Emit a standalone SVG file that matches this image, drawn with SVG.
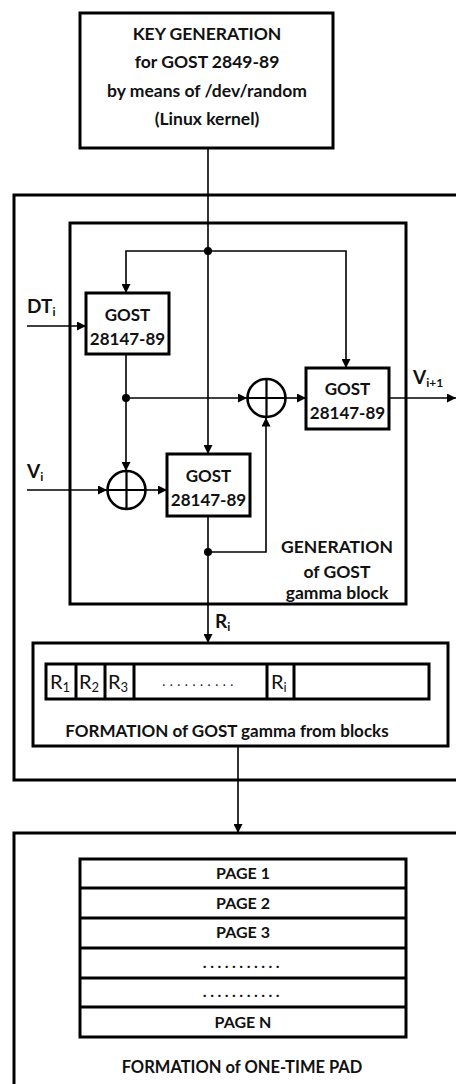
<svg xmlns="http://www.w3.org/2000/svg" width="456" height="1084" viewBox="0 0 456 1084">
<defs>
<marker id="ah" viewBox="0 0 10 10" refX="10" refY="5" markerWidth="9" markerHeight="9" markerUnits="userSpaceOnUse" orient="auto"><path d="M0,0 L10,5 L0,10 z" fill="#000"/></marker>
<style>
.box{fill:#fff;stroke:#000;stroke-width:3}
.frame{fill:none;stroke:#000;stroke-width:3}
.conn{fill:none;stroke:#000;stroke-width:1.6}
.t{font-family:Lato,"Open Sans",sans-serif;font-weight:bold;fill:#111;text-anchor:middle}
.r{font-family:Lato,"Open Sans",sans-serif;fill:#111;font-size:20px}
.lab{font-family:Lato,"Open Sans",sans-serif;font-weight:bold;fill:#111;font-size:19px}
.dots{font-family:Lato,"Open Sans",sans-serif;fill:#111;text-anchor:middle}
</style>
</defs>

<g id="outer-gamma"><rect class="frame" x="14" y="195" width="460" height="585"/></g>
<g id="outer-pad"><rect class="frame" x="14" y="833" width="460" height="260"/>
<text class="t" x="242" y="1073" font-size="16.5">FORMATION of ONE-TIME PAD</text></g>

<g id="key-gen">
<rect class="box" x="80" y="13" width="253" height="135"/>
<text class="t" x="207" y="40" font-size="17.5">KEY GENERATION</text>
<text class="t" x="207" y="68" font-size="17.5">for GOST 2849-89</text>
<text class="t" x="207" y="97" font-size="17.5">by means of /dev/random</text>
<text class="t" x="207" y="125" font-size="17.5">(Linux kernel)</text>
</g>

<g id="gen-block">
<rect class="frame" x="70" y="223" width="336" height="381"/>
<text class="t" x="337" y="553" font-size="17.5">GENERATION</text>
<text class="t" x="337" y="578" font-size="17.5">of GOST</text>
<text class="t" x="337" y="599" font-size="17.5">gamma block</text>
</g>

<g id="connectors">
<path class="conn" d="M208,148 V454" marker-end="url(#ah)"/>
<path class="conn" d="M208,251 H126 V293" marker-end="url(#ah)"/>
<path class="conn" d="M208,251 H346 V368" marker-end="url(#ah)"/>
<path class="conn" d="M27,326 H86" marker-end="url(#ah)"/>
<path class="conn" d="M126,354 V471" marker-end="url(#ah)"/>
<path class="conn" d="M126,398 H247" marker-end="url(#ah)"/>
<path class="conn" d="M285.5,398 H306" marker-end="url(#ah)"/>
<path class="conn" d="M389,398 H456" marker-end="url(#ah)"/>
<path class="conn" d="M27,490 H107" marker-end="url(#ah)"/>
<path class="conn" d="M145.5,490 H167" marker-end="url(#ah)"/>
<path class="conn" d="M208,516 V643" marker-end="url(#ah)"/>
<path class="conn" d="M208,552 H266 V417.5" marker-end="url(#ah)"/>
<path class="conn" d="M238,746 V833" marker-end="url(#ah)"/>
<circle cx="208" cy="251" r="4" fill="#000"/>
<circle cx="126" cy="398" r="4" fill="#000"/>
<circle cx="208" cy="552" r="4" fill="#000"/>
</g>

<g id="gost1">
<rect class="box" x="86" y="293" width="83" height="61"/>
<text class="t" x="127.5" y="321" font-size="17">GOST</text>
<text class="t" x="127.5" y="345" font-size="17">28147-89</text>
</g>
<g id="gost2">
<rect class="box" x="167" y="454" width="83" height="62"/>
<text class="t" x="208.5" y="482" font-size="17">GOST</text>
<text class="t" x="208.5" y="506" font-size="17">28147-89</text>
</g>
<g id="gost3">
<rect class="box" x="306" y="368" width="83" height="61"/>
<text class="t" x="347.5" y="395" font-size="17">GOST</text>
<text class="t" x="347.5" y="419" font-size="17">28147-89</text>
</g>

<g id="xor1">
<circle cx="266.5" cy="398" r="19" fill="#fff" stroke="#000" stroke-width="2.6"/>
<path d="M247.5,398 H285.5 M266.5,379 V417" stroke="#000" stroke-width="2.2"/>
</g>
<g id="xor2">
<circle cx="126.5" cy="490" r="19" fill="#fff" stroke="#000" stroke-width="2.6"/>
<path d="M107.5,490 H145.5 M126.5,471 V509" stroke="#000" stroke-width="2.2"/>
</g>

<g id="labels">
<text class="lab" x="27" y="313">DT<tspan font-size="12" dy="3">i</tspan></text>
<text class="lab" x="413" y="384">V<tspan font-size="12" dy="3">i+1</tspan></text>
<text class="lab" x="27" y="478">V<tspan font-size="12" dy="3">i</tspan></text>
<text class="lab" x="215" y="628">R<tspan font-size="12" dy="3">i</tspan></text>
</g>

<g id="formation-gamma">
<rect class="box" x="33" y="643" width="415" height="103"/>
<rect class="box" x="46" y="664" width="383" height="35"/>
<path d="M76,664 V699 M105,664 V699 M134,664 V699 M267,664 V699 M294,664 V699" stroke="#000" stroke-width="3"/>
<text class="r" x="50" y="689">R<tspan font-size="13" dy="3">1</tspan></text>
<text class="r" x="79" y="689">R<tspan font-size="13" dy="3">2</tspan></text>
<text class="r" x="108" y="689">R<tspan font-size="13" dy="3">3</tspan></text>
<text class="dots" x="200" y="686" font-size="13" style="letter-spacing:4.5px">..........</text>
<text class="r" x="271" y="689">R<tspan font-size="13" dy="3">i</tspan></text>
<text class="t" x="227" y="737" font-size="17">FORMATION of GOST gamma from blocks</text>
</g>

<g id="pages">
<rect class="box" x="80" y="859" width="326" height="178"/>
<path d="M80,888 H406 M80,918 H406 M80,948 H406 M80,978 H406 M80,1007 H406" stroke="#000" stroke-width="3"/>
<text class="t" x="243" y="879" font-size="16">PAGE 1</text>
<text class="t" x="243" y="909" font-size="16">PAGE 2</text>
<text class="t" x="243" y="938" font-size="16">PAGE 3</text>
<text class="t" x="243" y="968" font-size="16" style="letter-spacing:3.5px">...........</text>
<text class="t" x="243" y="997" font-size="16" style="letter-spacing:3.5px">...........</text>
<text class="t" x="243" y="1028" font-size="16">PAGE N</text>
</g>
</svg>
